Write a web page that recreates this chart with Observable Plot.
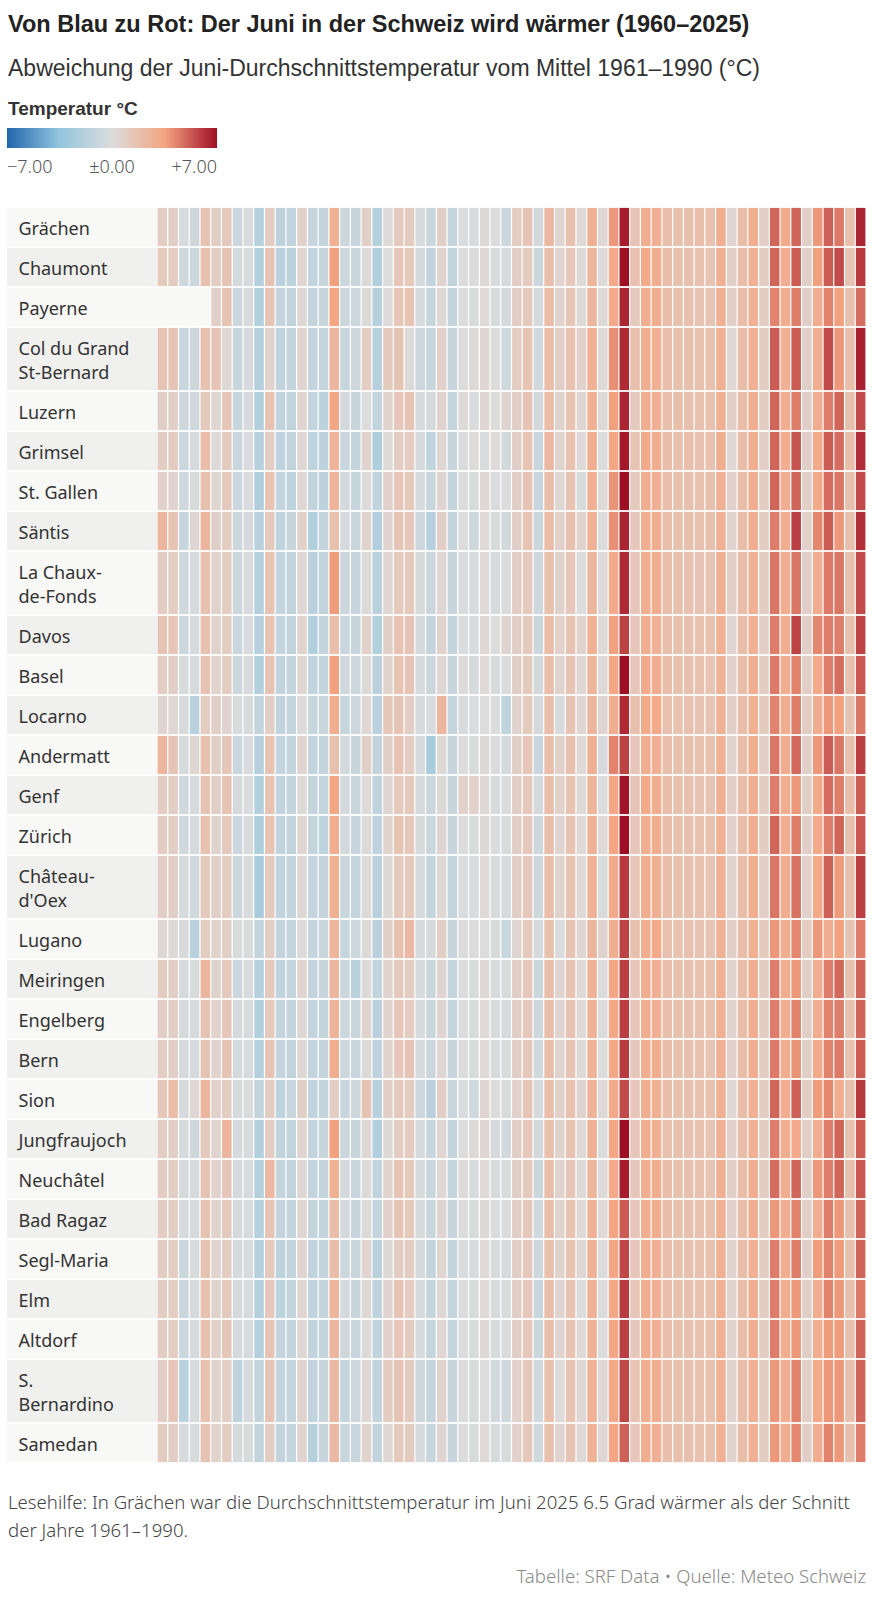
<!DOCTYPE html>
<html><head><meta charset="utf-8">
<script src="https://cdn.jsdelivr.net/npm/d3@7"></script>
<script src="https://cdn.jsdelivr.net/npm/@observablehq/plot@0.6"></script>
<style>
body{margin:0;background:#fff;width:872px;height:1600px;position:relative;font-family:"Noto Sans",sans-serif;color:#333;overflow:hidden}
.abs{position:absolute;white-space:nowrap}
#title{left:8px;top:9px;font:bold 23.5px/30px "Liberation Sans Narrow",sans-serif;color:#222}
#subtitle{left:8px;top:53px;font:23px/30px "Liberation Sans Narrow",sans-serif;color:#333}
#legtitle{left:8px;top:97px;font:bold 19px/24px "Liberation Sans Narrow",sans-serif;color:#333}
#legbar{left:7px;top:128px;width:210px;height:20px}
#legticks{left:7px;top:153px;width:210px;display:flex;justify-content:space-between;font:300 18px/26px "Noto Sans",sans-serif;color:#555}
#chart{left:0;top:206px}
#note{left:8px;top:1488px;width:862px;white-space:normal;font:300 18.6px/28px "Noto Sans",sans-serif;color:#444}
#source{right:6px;top:1563px;font:300 18.6px/26px "Noto Sans",sans-serif;color:#8a8a8a}
</style></head>
<body>
<div id="title" class="abs">Von Blau zu Rot: Der Juni in der Schweiz wird wärmer (1960–2025)</div>
<div id="subtitle" class="abs">Abweichung der Juni-Durchschnittstemperatur vom Mittel 1961–1990 (°C)</div>
<div id="legtitle" class="abs">Temperatur °C</div>
<div id="legbar" class="abs"></div>
<div id="legticks" class="abs"></div>
<div id="chart" class="abs"></div>
<div id="note" class="abs">Lesehilfe: In Grächen war die Durchschnittstemperatur im Juni 2025 6.5 Grad wärmer als der Schnitt der Jahre 1961–1990.</div>
<div id="source" class="abs">Tabelle: SRF Data • Quelle: Meteo Schweiz</div>
<script>
const firstYear = 1960, lastYear = 2025;
const stations = ["Grächen","Chaumont","Payerne","Col du Grand\nSt-Bernard","Luzern","Grimsel","St. Gallen","Säntis","La Chaux-\nde-Fonds","Davos","Basel","Locarno","Andermatt","Genf","Zürich","Château-\nd'Oex","Lugano","Meiringen","Engelberg","Bern","Sion","Jungfraujoch","Neuchâtel","Bad Ragaz","Segl-Maria","Elm","Altdorf","S.\nBernardino","Samedan"];
const legendTicks = [-7, 0, 7];

const graechen = [1.0,0.8,-0.2,-0.7,1.6,0.9,1.2,-0.8,-0.2,-1.8, 1.0,-1.5,-1.3,0.7,-1.0,-1.2,2.8,-0.8,-1.0,0.8, -1.9,0.1,1.1,1.1,-0.3,-0.9,0.8,-1.1,-0.1,-0.2, 0.2,-0.1,-0.8,1.0,1.5,-0.5,2.2,0.4,1.8,0.2, 2.8,0.3,3.8,6.7,1.5,3.0,2.8,1.9,1.8,1.8, 1.9,1.7,2.9,0.5,2.0,2.9,0.9,5.0,3.2,5.0, 0.8,3.8,5.1,4.5,1.8,6.5];
const chaumont = [1.2,1.0,-0.6,-0.8,1.8,1.0,1.5,-0.4,-0.2,-2.0, 1.5,-1.6,-1.5,0.4,-1.3,-1.0,3.6,-0.8,-0.9,0.2, -2.0,0.0,1.4,1.2,-0.4,-1.3,0.6,-1.3,0.0,-0.1, 0.2,-0.2,-0.3,0.9,1.1,-0.8,1.9,0.5,1.3,0.1, 2.5,0.1,3.2,7.0,1.7,3.2,3.0,2.0,1.8,1.8, 1.7,1.6,2.8,0.8,2.0,2.8,1.0,5.0,3.0,5.2, 0.8,3.6,5.2,5.6,1.6,6.0];
const payerne = [null,null,null,null,null,0.8,1.6,-0.8,-0.2,-2.0, 1.5,-1.2,-1.3,0.3,-1.2,-1.0,3.5,-0.8,-0.8,0.2, -1.8,0.1,1.4,1.6,-0.3,-1.0,0.3,-1.2,0.0,-0.2, 0.1,-0.2,-0.4,0.9,1.2,-0.3,2.0,0.6,1.4,0.2, 2.4,0.2,3.2,6.5,1.2,3.0,3.0,2.0,1.8,1.8, 1.6,1.5,2.8,0.8,2.0,2.8,1.0,4.3,3.0,4.4, 0.8,3.0,4.3,3.6,1.8,4.8];
const colGrandStBernard = [1.6,1.5,-0.9,-0.7,1.7,1.5,0.3,-1.0,-0.3,-1.9, 0.6,-1.3,-1.2,0.5,-1.2,-1.1,2.4,-1.0,-0.7,1.0, -1.8,1.2,1.5,0.2,-0.8,-1.0,0.7,-1.0,0.0,0.2, 0.4,0.0,-0.6,1.0,1.6,-0.6,2.0,0.8,1.7,0.7, 2.8,0.1,4.0,6.4,1.8,2.9,2.8,1.9,1.8,1.8, 1.8,1.7,2.8,0.3,2.0,2.8,1.0,5.2,2.8,5.2, 0.8,3.0,5.6,3.8,1.9,6.6];
const luzern = [0.8,0.8,-0.7,-0.6,1.2,0.4,1.4,-1.0,-0.2,-2.0, 1.6,-1.3,-1.3,0.5,-1.2,-1.5,3.4,-0.4,-1.0,0.0, -1.2,0.6,1.3,1.5,-0.2,-0.4,0.6,-1.1,0.2,-0.1, 0.4,0.0,0.5,0.8,1.5,-0.5,2.0,0.6,1.6,0.4, 2.8,0.2,3.6,6.5,1.2,3.0,2.8,1.9,1.9,1.8, 1.7,1.7,2.8,0.8,2.0,3.0,1.0,5.0,3.0,4.4, 0.8,3.0,4.4,5.0,1.8,5.6];
const grimsel = [1.0,1.1,-0.8,-0.3,2.0,0.2,1.1,-0.9,-0.1,-1.8, 0.9,-1.4,-1.3,0.3,-1.4,-1.5,2.6,-0.9,-1.2,0.6, -2.2,0.1,0.9,1.0,-0.3,-1.3,0.4,-1.0,-0.1,0.1, -0.1,0.1,-0.5,0.8,1.6,-0.9,2.2,0.6,1.7,0.1, 2.9,0.0,3.4,6.8,1.6,3.1,2.9,2.0,1.8,1.9, 1.7,1.7,2.9,0.3,2.0,2.9,0.9,5.0,3.0,5.4, 0.8,3.2,5.2,4.8,1.9,6.3];
const stGallen = [0.7,0.6,-0.6,-0.2,1.8,0.4,1.2,-0.8,-0.1,-2.1, 1.6,-1.2,-1.4,0.3,-1.3,-1.5,2.6,-0.4,-1.0,0.1, -1.3,0.7,1.4,1.2,-0.2,-0.9,0.5,-1.2,0.0,-0.2, 0.3,-0.1,0.0,0.8,1.5,-0.9,1.9,0.3,1.6,-0.2, 2.8,0.1,3.9,7.0,1.2,3.0,2.8,1.9,1.8,1.8, 1.7,1.8,2.8,0.7,2.0,2.9,1.0,5.0,3.0,5.0, 0.8,3.2,4.8,4.6,1.8,5.6];
const saentis = [2.4,1.6,-1.0,0.4,2.4,0.8,1.0,-0.8,-0.3,-1.7, 1.2,-1.4,-1.0,0.7,-2.0,-1.2,1.8,-0.3,-0.9,0.6, -2.1,0.6,1.5,1.3,-0.8,-1.8,0.8,-1.2,0.0,-0.7, 0.1,-0.2,-0.5,0.8,1.6,-0.8,2.0,0.7,1.8,0.6, 2.8,0.0,4.0,6.5,1.3,3.0,2.9,1.9,1.8,1.8, 1.8,1.8,2.8,0.6,2.0,2.9,1.0,4.4,3.0,5.9, 0.7,4.2,5.2,3.8,1.8,6.2];
const chauxDeFonds = [1.0,1.0,-0.7,-0.3,1.8,0.6,1.0,-0.8,-0.2,-1.9, 1.6,-1.2,-1.3,0.3,-1.6,-1.3,3.7,-0.8,-1.0,0.2, -1.7,0.4,1.2,1.2,-0.2,-0.8,0.4,-1.0,-0.1,-0.2, 0.1,-0.3,-0.1,0.9,1.2,-0.7,1.8,0.6,1.3,0.0, 2.4,0.1,3.1,6.4,1.4,3.0,2.9,1.9,1.8,1.7, 1.6,1.6,2.8,0.8,2.0,2.8,1.0,4.6,3.0,4.6, 0.8,3.0,4.5,4.6,1.8,5.6];
const davos = [1.5,1.4,-0.8,-0.3,1.8,0.6,1.0,-0.9,-0.2,-1.8, 1.6,-1.2,-1.3,0.6,-2.0,-1.2,1.9,-0.9,-1.0,0.7, -2.0,0.8,1.6,1.5,-0.4,-1.2,0.6,-1.2,-0.1,-0.2, 0.3,0.0,0.5,0.8,1.2,-0.8,2.0,0.7,1.6,0.6, 2.8,0.1,3.6,5.8,1.4,3.0,2.7,1.9,1.8,1.8, 1.7,1.7,2.8,0.5,2.0,2.8,0.9,4.4,3.0,5.8, 0.8,4.2,4.4,4.4,1.8,5.8];
const basel = [1.0,0.8,-0.2,-0.3,1.6,0.6,1.0,-0.8,-0.2,-2.0, 1.5,-1.3,-1.2,0.4,-1.3,-1.2,3.6,-0.7,-0.8,0.2, -1.6,0.6,1.6,1.5,-0.3,-0.8,0.4,-1.0,0.1,-0.3, 0.1,-0.2,-0.1,0.8,1.2,-0.5,1.9,0.6,1.5,0.3, 2.5,0.2,3.4,7.0,1.4,3.1,3.0,2.0,1.8,1.8, 1.7,1.6,2.7,0.7,2.0,3.0,1.0,4.5,3.0,4.3, 0.8,3.2,4.4,4.8,1.8,5.3];
const locarno = [0.5,0.3,-0.2,-1.6,1.0,0.8,0.6,-0.2,-0.3,-1.2, 0.8,-1.3,-1.1,0.1,-1.0,-0.9,3.0,-1.0,-0.8,0.3, -1.6,1.4,1.5,0.8,-0.3,-0.2,2.4,-1.1,-0.2,-0.1, 0.0,-0.1,-1.4,0.6,1.2,-0.4,1.9,-0.3,1.5,0.4, 2.4,0.5,2.9,6.4,1.8,3.2,3.2,1.8,1.7,1.8, 1.6,1.6,2.7,0.8,2.0,2.8,1.2,4.3,3.0,4.4, 1.0,3.0,3.8,3.6,1.6,4.6];
const andermatt = [2.4,1.5,-0.3,0.4,1.8,0.8,1.4,-0.9,-0.2,-1.8, 1.6,-1.2,-1.2,0.5,-1.2,-1.2,1.8,-0.4,-1.0,0.8, -1.2,0.8,1.6,1.0,-0.3,-2.4,0.2,-1.0,0.0,-0.2, 0.2,-0.1,-0.4,0.8,1.4,-0.9,1.9,0.7,1.8,0.1, 2.8,-0.3,4.3,5.8,1.4,3.0,2.8,1.9,1.8,1.8, 1.8,1.7,2.8,0.6,2.0,2.9,0.9,4.6,3.0,4.9, 0.8,3.8,5.2,4.6,1.8,5.9];
const genf = [1.0,0.9,-0.6,-0.3,1.6,0.8,1.6,-0.4,-0.1,-2.0, 1.6,-1.3,-1.2,0.2,-1.2,-1.1,3.4,-0.4,-0.9,0.1, -1.4,0.5,1.2,1.2,-0.3,-0.8,0.2,-1.0,0.7,0.7, 0.2,-0.2,-0.1,0.8,1.3,-0.4,1.9,0.7,1.6,0.2, 2.5,0.0,3.4,6.9,1.5,3.2,3.0,2.0,1.8,1.8, 1.6,1.6,2.8,0.9,2.0,3.0,1.0,4.4,3.0,3.8, 0.8,3.2,4.8,4.4,1.9,5.2];
const zuerich = [1.0,0.9,-0.6,-0.3,1.7,0.6,1.2,-0.8,-0.2,-2.2, 1.6,-1.3,-1.3,0.4,-1.2,-1.4,3.0,-0.4,-1.0,0.2, -1.4,0.6,1.6,1.3,-0.2,-0.8,0.5,-1.0,0.0,-0.2, 0.2,-0.1,-0.2,0.8,1.3,-0.7,1.9,0.5,1.6,0.1, 2.7,0.1,3.5,7.0,1.4,3.0,2.9,2.0,1.8,1.8, 1.7,1.7,2.8,0.7,2.0,2.9,1.0,5.0,3.0,4.4, 0.8,3.2,4.4,5.0,1.8,5.3];
const chateauDOex = [0.9,0.8,-0.3,-0.6,1.2,0.8,1.0,-0.8,-0.2,-2.4, 1.2,-1.3,-1.2,0.3,-1.1,-1.2,2.8,-0.9,-1.1,0.2, -1.6,0.2,1.2,1.2,-0.3,-1.1,0.3,-1.1,-0.1,-0.1, 0.1,-0.2,-0.3,0.8,1.3,-0.7,1.9,0.6,1.6,0.1, 2.7,-0.2,3.1,6.0,1.4,3.0,2.8,2.0,1.8,1.8, 1.7,1.6,2.8,0.6,2.0,2.9,0.9,4.6,3.0,4.7, 0.7,3.2,5.1,3.7,1.8,5.9];
const lugano = [0.3,0.2,-0.2,-1.6,1.0,0.6,0.8,-0.2,-0.2,-1.2, 0.9,-1.2,-1.1,0.1,-1.1,-0.9,2.5,-1.0,-0.8,0.2, -1.6,0.8,1.8,2.2,-0.2,-0.3,0.8,-1.0,0.0,-0.1, 0.0,-0.2,-1.0,0.5,1.2,-0.3,1.8,-0.1,1.5,0.4, 2.4,0.6,2.9,5.8,1.8,3.0,3.2,1.8,1.7,1.8, 1.6,1.6,2.7,0.8,2.0,2.8,1.2,3.8,3.0,4.2, 1.0,3.8,3.0,3.6,1.6,4.4];
const meiringen = [1.1,0.9,-0.3,-0.2,2.4,0.6,1.2,-0.8,-0.2,-1.8, 1.2,-1.3,-1.1,0.5,-1.2,-1.0,2.4,-0.8,-1.6,0.2, -1.3,0.6,1.2,1.0,-0.3,-0.9,0.5,-1.1,0.0,-0.2, 0.2,-0.2,-0.2,0.8,1.3,-0.8,1.9,0.5,1.6,0.1, 2.7,0.0,3.4,5.9,1.4,3.0,2.8,1.9,1.8,1.8, 1.7,1.7,2.8,0.6,2.0,2.9,1.0,4.4,3.0,3.8, 0.8,3.0,4.4,4.9,1.8,5.0];
const engelberg = [0.9,0.9,-0.3,-0.3,1.6,0.6,1.4,-0.4,-0.2,-2.0, 1.2,-1.1,-1.2,0.3,-1.2,-1.2,2.6,-0.8,-0.9,0.6, -1.6,0.6,1.4,1.0,-0.3,-0.9,0.5,-1.1,0.0,-0.2, 0.1,-0.2,-0.3,0.8,1.3,-0.7,1.9,0.5,1.6,0.1, 2.7,0.0,3.3,5.9,1.4,3.0,2.8,1.9,1.8,1.8, 1.7,1.7,2.8,0.6,2.0,2.9,1.0,4.4,3.0,4.3, 0.8,3.0,4.3,4.4,1.8,5.0];
const bern = [1.0,0.8,-0.3,-0.3,1.5,0.6,1.5,-0.4,-0.2,-1.9, 1.5,-1.2,-1.3,0.3,-1.2,-1.2,3.0,-0.8,-0.9,0.2, -1.4,0.6,1.3,1.5,-0.3,-0.8,0.4,-1.0,0.0,-0.2, 0.1,-0.2,-0.2,0.8,1.3,-0.6,1.9,0.6,1.5,0.1, 2.6,0.0,3.3,6.0,1.3,3.0,2.9,2.0,1.8,1.8, 1.7,1.6,2.8,0.7,2.0,2.9,1.0,4.5,3.0,3.9, 0.8,3.2,4.3,4.5,1.8,5.2];
const sion = [1.4,2.0,-0.3,0.3,2.4,0.7,1.0,-0.3,-0.1,-1.2, 1.0,-1.4,-0.9,0.8,-1.3,-1.2,0.9,-0.9,-0.7,1.5, -1.8,0.8,1.2,1.0,-0.8,-1.6,0.8,-0.9,-0.1,-0.6, 0.5,0.0,-0.2,0.7,1.5,-0.3,1.9,0.7,1.7,0.6, 2.6,0.2,3.2,5.6,1.4,2.9,2.8,2.0,1.8,1.8, 1.7,1.7,2.8,0.3,2.0,2.8,1.0,5.0,3.0,5.1, 1.0,3.7,4.2,3.0,1.8,6.0];
const jungfraujoch = [1.0,0.8,-0.3,-0.7,1.2,0.5,2.4,-0.3,-0.2,-2.0, 1.0,-1.3,-1.3,0.5,-1.2,-1.0,3.6,-0.8,-1.0,0.3, -2.0,0.2,1.0,1.1,-0.3,-1.0,0.4,-1.2,0.0,0.2, 0.4,-0.3,-0.5,0.8,1.3,-0.5,1.8,0.6,1.6,0.2, 2.8,0.0,3.4,7.0,1.4,3.0,2.8,1.8,1.8,1.7, 1.7,1.6,2.8,0.7,2.0,2.8,1.0,4.4,3.0,3.2, 0.8,3.0,4.4,5.0,1.8,5.2];
const neuchatel = [1.0,0.9,-0.3,-0.3,1.6,0.6,1.4,-0.4,-0.2,-1.9, 2.3,-1.2,-1.3,0.3,-1.2,-1.2,2.8,-0.4,-0.9,0.2, -1.3,0.6,1.5,1.2,-0.2,-0.9,0.3,-1.1,0.1,-0.2, 0.1,-0.2,-0.2,0.8,1.2,-0.8,1.9,0.6,1.4,0.1, 2.5,0.1,3.2,6.7,1.4,3.0,2.9,2.0,1.8,1.8, 1.7,1.6,2.8,0.8,2.0,2.9,1.0,4.8,3.0,5.0, 0.8,3.8,4.4,5.0,1.8,5.3];
const badRagaz = [1.0,0.9,-0.3,-0.3,1.6,0.6,1.2,-0.4,-0.2,-1.8, 1.5,-1.2,-1.2,0.4,-1.2,-1.2,2.0,-0.4,-1.0,0.2, -1.2,0.7,1.5,1.2,-0.2,-0.9,0.5,-1.0,0.0,-0.2, 0.2,-0.1,-0.1,0.8,1.3,-0.6,1.9,0.6,1.6,0.1, 2.7,0.1,3.5,5.2,1.4,3.0,2.9,2.0,1.8,1.8, 1.7,1.7,2.8,0.7,2.0,2.9,1.0,3.8,3.0,4.3, 0.8,3.0,4.4,3.8,1.8,5.0];
const seglMaria = [1.0,1.0,-0.8,-0.2,1.6,0.5,1.0,-0.3,-0.2,-1.8, 1.2,-1.5,-1.2,0.5,-1.3,-1.2,2.0,-0.8,-0.9,0.5, -1.7,0.2,1.0,1.0,-0.4,-1.2,0.4,-1.2,-0.1,-0.2, 0.1,-0.2,-0.3,0.8,1.3,-0.7,1.8,0.6,1.6,0.3, 2.7,0.0,3.4,5.7,1.4,3.0,2.8,1.9,1.8,1.8, 1.7,1.7,2.8,0.6,2.0,2.8,1.0,4.4,3.0,4.4, 0.8,3.7,4.3,3.7,1.8,5.0];
const elm = [1.0,1.0,-0.9,-0.3,1.8,0.6,1.2,-0.4,-0.2,-1.9, 1.3,-1.5,-1.2,0.4,-1.4,-1.2,2.5,-0.4,-1.0,0.3, -1.4,0.6,1.5,1.0,-0.3,-1.1,0.3,-1.1,0.0,-0.2, 0.1,-0.2,-0.2,0.8,1.3,-0.9,1.9,0.5,1.6,0.0, 2.7,0.0,3.3,6.0,1.4,3.0,2.8,1.9,1.8,1.8, 1.7,1.7,2.8,0.6,2.0,2.9,1.0,4.4,3.0,3.8, 0.8,3.0,4.3,3.8,1.8,4.5];
const altdorf = [1.0,1.0,-0.8,-0.3,1.8,0.7,1.4,-0.4,-0.2,-1.9, 1.5,-1.2,-1.2,0.3,-1.3,-1.2,2.4,-0.7,-0.9,0.2, -1.3,0.7,1.4,1.1,-0.2,-1.1,0.4,-1.1,0.0,-0.2, 0.2,-0.2,-0.1,0.8,1.3,-0.8,1.9,0.5,1.6,0.1, 2.7,0.0,3.4,5.9,1.3,3.0,2.8,1.9,1.8,1.8, 1.7,1.7,2.8,0.6,2.0,2.9,1.0,4.4,3.0,3.8, 0.8,3.0,3.7,3.7,1.8,5.0];
const sBernardino = [0.9,1.4,-1.6,-0.2,1.7,0.6,0.9,-1.4,-0.3,-1.2, 1.5,-1.2,-1.1,0.6,-1.3,-1.0,2.2,-1.2,-0.8,0.3, -1.3,1.0,1.5,1.1,-0.7,-1.2,0.6,-1.0,0.0,-0.2, 0.0,-0.5,-0.6,0.7,1.3,-0.6,1.8,0.1,1.6,0.3, 2.7,0.3,3.3,5.7,1.6,3.0,3.0,1.9,1.8,1.8, 1.7,1.7,2.8,0.6,2.0,2.8,1.0,3.8,3.0,4.3, 0.8,3.2,3.8,3.8,1.8,5.0];
const samedan = [1.1,0.9,-0.3,-0.2,1.6,0.6,1.0,-0.3,-0.2,-1.2, 1.0,-1.2,-1.1,0.5,-1.8,-1.0,2.2,-0.9,-0.9,0.6, -1.3,0.3,1.2,1.1,-0.3,-1.0,0.5,-1.0,0.0,-0.2, 0.1,-0.2,-0.2,0.7,1.3,-0.6,1.8,0.5,1.6,0.2, 2.7,0.3,3.4,5.1,1.4,3.0,2.8,1.9,1.8,1.8, 1.7,1.7,2.8,0.6,2.0,2.8,1.0,3.8,3.0,4.2, 0.8,3.0,4.3,3.8,1.8,4.4];

const series = [graechen, chaumont, payerne, colGrandStBernard, luzern, grimsel, stGallen, saentis, chauxDeFonds, davos, basel, locarno, andermatt, genf, zuerich, chateauDOex, lugano, meiringen, engelberg, bern, sion, jungfraujoch, neuchatel, badRagaz, seglMaria, elm, altdorf, sBernardino, samedan];

const years = d3.range(firstYear, lastYear + 1);

// layout (not data): row units, single-line row = 1, two-line row = 1.6
let acc = 0;
const rows = stations.map((s, i) => {
  const h = s.includes("\n") ? 1.6 : 1;
  const r = {station: s, i, y1: acc, y2: acc + h};
  acc += h;
  return r;
});
const cells = rows.flatMap((r, i) => years.map((yr, j) => ({year: yr, y1: r.y1, y2: r.y2, v: series[i][j]})));

const gridLeft = 157, gridRight = 866, labelLeft = 7;
const colW = (gridRight - gridLeft) / years.length;
const xStart = firstYear - (gridLeft - labelLeft) / colW;

const colorOpts = {type: "linear", domain: [-7, -3.5, 0, 3.5, 7], range: ["#2166ac", "#92c5de", "#dcdcdc", "#f4a582", "#9f0f24"], interpolate: "rgb", clamp: true};

const chart = Plot.plot({
  width: 872,
  height: 1258,
  margin: 0,
  style: {background: "transparent"},
  x: {type: "linear", domain: [xStart, lastYear + 1], range: [labelLeft, gridRight], axis: null},
  y: {type: "linear", domain: [0, acc], range: [1, 1257], axis: null},
  color: colorOpts,
  marks: [
    Plot.rect(rows.filter(d => d.i % 2 === 0), {x1: xStart, x2: firstYear, y1: "y1", y2: "y2", fill: "#f8f8f6", insetTop: 0.9, insetBottom: 0.9}),
    Plot.rect(rows.filter(d => d.i % 2 === 1), {x1: xStart, x2: firstYear, y1: "y1", y2: "y2", fill: "#f0f0ee", insetTop: 0.9, insetBottom: 0.9}),
    Plot.rect(cells.filter(d => d.v == null), {x1: "year", x2: d => d.year + 1, y1: "y1", y2: "y2", fill: "#f8f8f6", insetTop: 0.9, insetBottom: 0.9}),
    Plot.rect(cells.filter(d => d.v != null), {x1: "year", x2: d => d.year + 1, y1: "y1", y2: "y2", fill: "v", insetLeft: 0.6, insetRight: 0.6, insetTop: 0.9, insetBottom: 0.9}),
    Plot.text(rows, {x: xStart, y: d => (d.y1 + d.y2) / 2, text: "station", textAnchor: "start", dx: 11, fontSize: 18, lineHeight: 1.33, fill: "#333", fontFamily: "Noto Sans"})
  ]
});
document.getElementById("chart").appendChild(chart);

// legend ramp from the same color scale
const cs = Plot.scale({color: colorOpts});
const stops = d3.range(0, 41).map(i => `${cs.apply(-7 + 14 * i / 40)} ${(i * 2.5).toFixed(1)}%`).join(",");
document.getElementById("legbar").style.background = `linear-gradient(to right, ${stops})`;
const fmt = v => (v < 0 ? "−" : v > 0 ? "+" : "±") + Math.abs(v).toFixed(2);
const lt = document.getElementById("legticks");
legendTicks.forEach(v => { const s = document.createElement("span"); s.textContent = fmt(v); lt.appendChild(s); });
</script>
</body></html>
